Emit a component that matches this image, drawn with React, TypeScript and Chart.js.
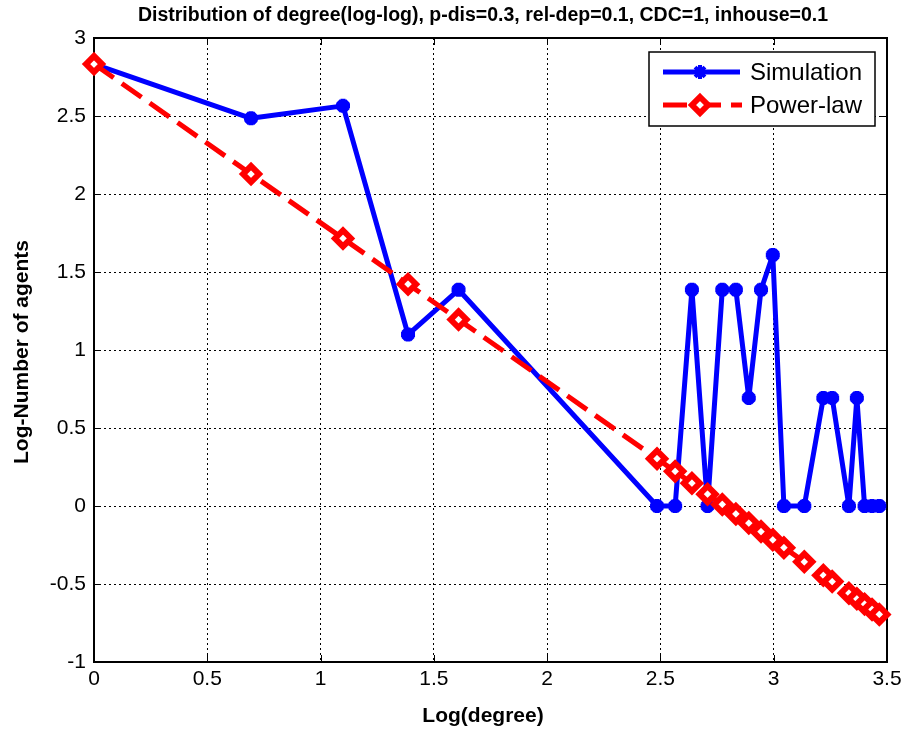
import React, { useEffect, useRef } from "react";
import { Chart, registerables } from "chart.js";

Chart.register(...registerables);

// ---- Data (natural log of degree / count) ----
const logDegree = [0, 0.693, 1.099, 1.386, 1.609, 2.485, 2.565, 2.639, 2.708, 2.773, 2.833, 2.89, 2.944, 2.996, 3.045, 3.135, 3.219, 3.258, 3.332, 3.367, 3.401, 3.434, 3.466];
const simulation = [2.833, 2.485, 2.565, 1.099, 1.386, 0, 0, 1.386, 0, 1.386, 1.386, 0.693, 1.386, 1.609, 0, 0, 0.693, 0.693, 0, 0.693, 0, 0, 0];
const powerLaw = [2.833, 2.128, 1.715, 1.422, 1.195, 0.303, 0.222, 0.146, 0.076, 0.01, -0.051, -0.109, -0.164, -0.217, -0.267, -0.358, -0.444, -0.484, -0.559, -0.595, -0.629, -0.663, -0.695];

const xTicks = [0, 0.5, 1, 1.5, 2, 2.5, 3, 3.5];
const yTicks = [-1, -0.5, 0, 0.5, 1, 1.5, 2, 2.5, 3];

const chartTitle = "Distribution of degree(log-log), p-dis=0.3, rel-dep=0.1, CDC=1, inhouse=0.1";
const xTitle = "Log(degree)";
const yTitle = "Log-Number of agents";
const seriesNames = ["Simulation", "Power-law"];

const FONT = "'Liberation Sans', Arial, Helvetica, sans-serif";
const BLUE = "#0000ff";
const RED = "#ff0000";

const matlabPlugin = {
  id: "matlabFrame",
  beforeDatasetsDraw(chart: any) {
    const { ctx, chartArea: a, scales } = chart;
    ctx.save();
    ctx.setLineDash([]);
    ctx.strokeStyle = "#000";
    ctx.lineWidth = 1;
    const tl = 7;
    ctx.beginPath();
    xTicks.forEach((v) => {
      const px = Math.round(scales.x.getPixelForValue(v)) + 0.5;
      ctx.moveTo(px, a.bottom);
      ctx.lineTo(px, a.bottom - tl);
      ctx.moveTo(px, a.top);
      ctx.lineTo(px, a.top + tl);
    });
    yTicks.forEach((v) => {
      const py = Math.round(scales.y.getPixelForValue(v)) + 0.5;
      ctx.moveTo(a.left, py);
      ctx.lineTo(a.left + tl, py);
      ctx.moveTo(a.right, py);
      ctx.lineTo(a.right - tl, py);
    });
    ctx.stroke();
    ctx.lineWidth = 2;
    ctx.strokeRect(a.left, a.top, a.right - a.left, a.bottom - a.top);
    ctx.restore();
  },
  afterDraw(chart: any) {
    const { ctx, chartArea: a } = chart;
    ctx.save();
    ctx.fillStyle = "#000";
    // title
    ctx.font = `bold 19.5px ${FONT}`;
    ctx.textAlign = "center";
    ctx.textBaseline = "alphabetic";
    ctx.fillText(chartTitle, 483, 21, 722);
    // x title
    ctx.textBaseline = "middle";
    ctx.font = `bold 21px ${FONT}`;
    ctx.fillText(xTitle, 483, 716);
    // y title
    ctx.save();
    ctx.translate(22, (a.top + a.bottom) / 2 + 2);
    ctx.rotate(-Math.PI / 2);
    ctx.fillText(yTitle, 0, 0);
    ctx.restore();

    // legend
    const bw = 226, bh = 74;
    const bx = a.right - 12 - bw;
    const by = a.top + 14;
    ctx.fillStyle = "#fff";
    ctx.fillRect(bx, by, bw, bh);
    ctx.strokeStyle = "#000";
    ctx.lineWidth = 1.5;
    ctx.setLineDash([]);
    ctx.strokeRect(bx, by, bw, bh);
    const rows = [by + 20, by + 53];
    const lx0 = bx + 14, lx1 = bx + 91, mx = bx + 51;
    // simulation row
    ctx.strokeStyle = BLUE;
    ctx.lineWidth = 5;
    ctx.beginPath();
    ctx.moveTo(lx0, rows[0]);
    ctx.lineTo(lx1, rows[0]);
    ctx.stroke();
    ctx.lineWidth = 4;
    ctx.beginPath();
    for (let k = 0; k < 4; k++) {
      const ang = (k * Math.PI) / 4;
      ctx.moveTo(mx + Math.cos(ang) * 7, rows[0] + Math.sin(ang) * 7);
      ctx.lineTo(mx - Math.cos(ang) * 7, rows[0] - Math.sin(ang) * 7);
    }
    ctx.stroke();
    ctx.fillStyle = BLUE;
    ctx.beginPath();
    ctx.arc(mx, rows[0], 5, 0, Math.PI * 2);
    ctx.fill();
    // power law row
    ctx.strokeStyle = RED;
    ctx.lineWidth = 5;
    ctx.setLineDash([24, 10]);
    ctx.beginPath();
    ctx.moveTo(lx0, rows[1]);
    ctx.lineTo(lx1 + 2, rows[1]);
    ctx.stroke();
    ctx.setLineDash([]);
    ctx.fillStyle = "#fff";
    ctx.lineWidth = 6;
    ctx.lineJoin = "miter";
    ctx.beginPath();
    ctx.moveTo(mx, rows[1] - 8);
    ctx.lineTo(mx + 8, rows[1]);
    ctx.lineTo(mx, rows[1] + 8);
    ctx.lineTo(mx - 8, rows[1]);
    ctx.closePath();
    ctx.fill();
    ctx.stroke();
    // text
    ctx.fillStyle = "#000";
    ctx.font = `24px ${FONT}`;
    ctx.textAlign = "left";
    ctx.textBaseline = "middle";
    ctx.fillText(seriesNames[0], bx + 101, rows[0] + 1);
    ctx.fillText(seriesNames[1], bx + 101, rows[1] + 1);
    ctx.restore();
  },
};

export default function App() {
  const ref = useRef<HTMLCanvasElement | null>(null);

  useEffect(() => {
    if (!ref.current) return;
    const tickFont = { family: FONT, size: 21 };
    const chart = new Chart(ref.current, {
      type: "line",
      data: {
        datasets: [
          {
            label: seriesNames[0],
            data: logDegree.map((x, i) => ({ x, y: simulation[i] })),
            borderColor: BLUE,
            backgroundColor: BLUE,
            borderWidth: 5,
            borderJoinStyle: "round",
            pointStyle: "star",
            pointRadius: 7,
            pointBorderWidth: 5,
            pointBorderColor: BLUE,
            pointBackgroundColor: BLUE,
            tension: 0,
            clip: false,
            order: 2,
          } as any,
          {
            label: seriesNames[1],
            data: logDegree.map((x, i) => ({ x, y: powerLaw[i] })),
            borderColor: RED,
            backgroundColor: "#fff",
            borderWidth: 5,
            borderDash: [24, 10],
            borderJoinStyle: "round",
            pointStyle: "rectRot",
            pointRadius: 8,
            pointBorderWidth: 6,
            pointBorderColor: RED,
            pointBackgroundColor: "#fff",
            tension: 0,
            clip: false,
            order: 1,
          } as any,
        ],
      },
      options: {
        animation: false,
        responsive: false,
        layout: { padding: { top: 38, right: 23, left: 0, bottom: 0 } },
        plugins: {
          legend: { display: false },
          title: { display: false },
          tooltip: { enabled: false },
        },
        scales: {
          x: {
            type: "linear",
            min: 0,
            max: 3.5,
            afterBuildTicks: (s: any) => {
              s.ticks = xTicks.map((v) => ({ value: v }));
            },
            afterFit: (s: any) => {
              s.height = 69;
            },
            ticks: {
              color: "#000",
              font: tickFont,
              padding: 5,
              maxRotation: 0,
              autoSkip: false,
              callback: (v: any) => String(v),
            },
            grid: { color: "#000", lineWidth: 1, drawTicks: false },
            border: { display: false, dash: [2, 3] },
          },
          y: {
            type: "linear",
            min: -1,
            max: 3,
            afterBuildTicks: (s: any) => {
              s.ticks = yTicks.map((v) => ({ value: v }));
            },
            afterFit: (s: any) => {
              s.width = 94;
            },
            ticks: {
              color: "#000",
              font: tickFont,
              padding: 8,
              autoSkip: false,
              callback: (v: any) => String(v),
            },
            grid: { color: "#000", lineWidth: 1, drawTicks: false },
            border: { display: false, dash: [2, 3] },
          },
        },
      } as any,
      plugins: [matlabPlugin],
    });
    return () => chart.destroy();
  }, []);

  return (
    <div style={{ position: "fixed", left: 0, top: 0, width: 910, height: 731, background: "#fff" }}>
      <canvas ref={ref} width={910} height={731} style={{ display: "block" }} />
    </div>
  );
}
